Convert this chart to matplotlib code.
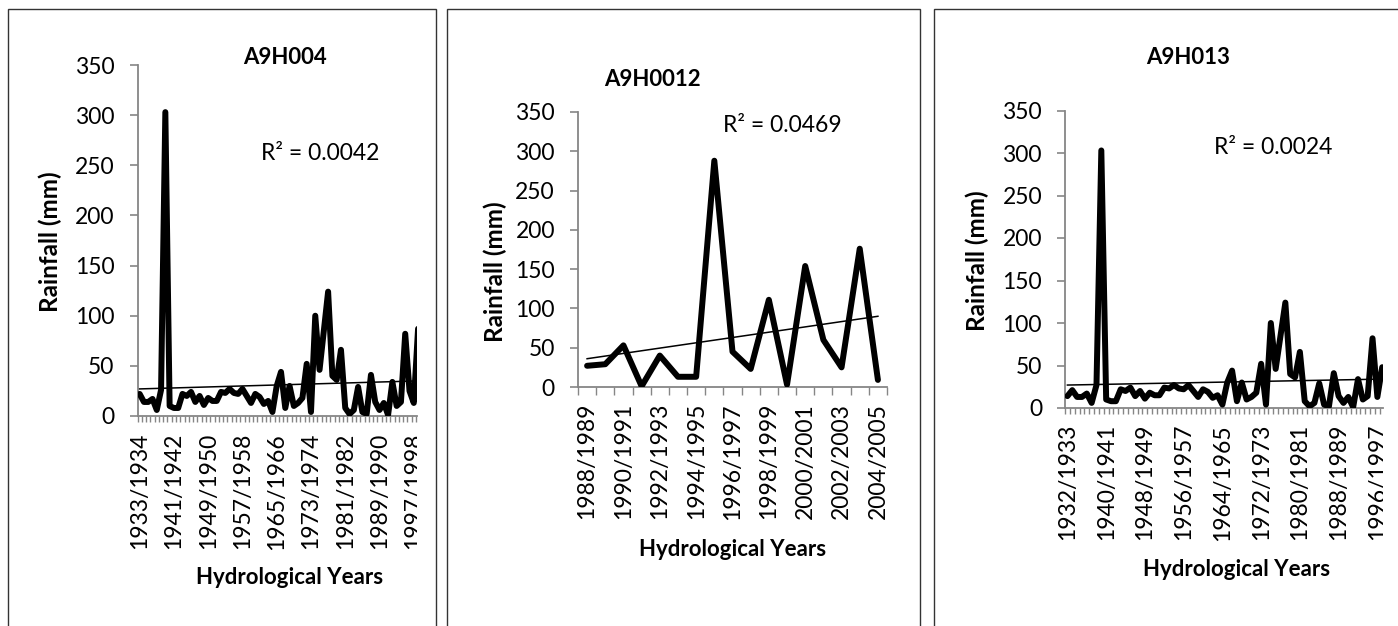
import numpy as np
import matplotlib
matplotlib.use("Agg")
import matplotlib.pyplot as plt
from matplotlib.patches import Rectangle
from matplotlib.ticker import FixedLocator
from matplotlib.transforms import Bbox, TransformedBbox

plt.rcParams['font.family'] = ['Lato', 'DejaVu Sans']

W, H, DPI = 1398, 626, 100

# Annual rainfall (mm) per hydrological year, one list per station
a9h004_start = 1933
a9h004_rain = [22, 14, 14, 17, 6, 26, 303, 10, 8, 8, 22, 20, 24, 14, 20, 11, 18, 15, 15, 24,
               23, 27, 23, 22, 27, 20, 13, 22, 19, 12, 15, 4, 30, 44, 8, 30, 10, 13, 18, 52,
               4, 100, 46, 85, 124, 40, 36, 66, 8, 2, 6, 29, 4, 2, 41, 14, 6, 13, 1, 34,
               10, 14, 82, 25, 13, 87]

a9h0012_start = 1988
a9h0012_rain = [27, 29, 53, 1, 40, 13, 13, 288, 45, 23, 111, 3, 154, 60, 25, 176, 9]

a9h013_start = 1932
a9h013_rain = [14, 21, 13, 13, 17, 6, 27, 303, 10, 8, 8, 22, 20, 24, 14, 20, 11, 18, 15, 15,
               24, 23, 27, 23, 22, 27, 20, 13, 22, 19, 12, 15, 4, 30, 44, 8, 30, 10, 13, 18,
               52, 4, 100, 46, 85, 124, 40, 36, 66, 8, 2, 6, 29, 4, 2, 41, 14, 6, 13, 1,
               34, 10, 14, 82, 13, 48]

# linear trend lines: value at the first and at the last year of each series
a9h004_trend = [27, 35]
a9h0012_trend = [36, 90]
a9h013_trend = [27, 34]

r2_labels = ["R\u00b2 = 0.0042", "R\u00b2 = 0.0469", "R\u00b2 = 0.0024"]
titles = ["A9H004", "A9H0012", "A9H013"]
y_ticks = list(range(0, 351, 50))

AXIS_GREY = "#868686"
FRAME = "#333333"
TICK_FS = 16.5
BOLD_FS = 16

fig = plt.figure(figsize=(W / DPI, H / DPI), dpi=DPI)
fig.patch.set_facecolor("white")


def px_pt(px):
    return px * 72.0 / DPI


def ftext(x, y, s, **kw):
    fig.text(x / W, 1 - y / H, s, **kw)


def frame(x0, x1):
    fig.add_artist(Rectangle((x0 / W, -0.2), (x1 - x0) / W, 1.2 - 9 / H,
                             transform=fig.transFigure, fill=False,
                             edgecolor=FRAME, linewidth=1.0))


def panel(values, trend, start_year, box, xmax, step, minor_len, xpad):
    left, right, top, bottom = box
    ax = fig.add_axes([left / W, 1 - bottom / H, (right - left) / W, (bottom - top) / H])
    x = np.arange(len(values))
    y = np.asarray(values, dtype=float)
    cats = [f"{start_year + i}/{start_year + i + 1}" for i in x]

    ax.plot(x, y, color="black", lw=4.3, solid_joinstyle="round",
            solid_capstyle="round", zorder=3)
    ax.plot([x[0], x[-1]], trend, color="black", lw=1.1, zorder=4)

    ax.set_xlim(-0.5, xmax)
    ax.set_ylim(0, 350)
    ax.set_yticks(y_ticks)
    ax.set_facecolor("none")

    for side in ("top", "right"):
        ax.spines[side].set_visible(False)
    for side in ("left", "bottom"):
        ax.spines[side].set_color(AXIS_GREY)
        ax.spines[side].set_linewidth(1.3)

    shown = [i for i in x if i % step == 0 and i <= xmax]
    ax.xaxis.set_major_locator(FixedLocator(shown))
    ax.set_xticklabels([cats[i] for i in shown])
    ax.xaxis.set_minor_locator(FixedLocator(np.arange(-0.5, len(values) + 0.5, 1.0)))

    ax.tick_params(axis="y", length=px_pt(8), width=1.2, color=AXIS_GREY,
                   pad=px_pt(15), labelsize=TICK_FS)
    ax.tick_params(axis="x", which="major", length=0, pad=px_pt(xpad),
                   labelrotation=90, labelsize=TICK_FS)
    ax.tick_params(axis="x", which="minor", length=px_pt(minor_len), width=1.0,
                   color=AXIS_GREY)

    # the category axis runs past the panel edge: cut labels at the plot's right side
    clip = TransformedBbox(Bbox([[0, 0], [right / W, 1]]), fig.transFigure)
    for t in ax.xaxis.get_major_ticks():
        t.label1.set_clip_box(clip)
        t.label1.set_clip_on(True)
    return ax


# panel outlines
frame(8, 436)
frame(447, 920)
frame(934, 1420)

# A9H004
panel(a9h004_rain, a9h004_trend, a9h004_start, (137.5, 417, 65, 416), 64.75, 8, 6, 17)
ftext(285, 58, titles[0], fontsize=BOLD_FS, fontweight="bold", ha="center", va="center")
ftext(320, 154, r2_labels[0], fontsize=TICK_FS, ha="center", va="center")
ftext(50, 242, "Rainfall (mm)", fontsize=17.5, fontweight="bold", rotation=90,
      ha="center", va="center")
ftext(290, 578, "Hydrological Years", fontsize=BOLD_FS, fontweight="bold",
      ha="center", va="center")

# A9H0012
panel(a9h0012_rain, a9h0012_trend, a9h0012_start, (578, 887, 112, 387), 16.5, 2, 8, 16)
ftext(652, 80, titles[1], fontsize=BOLD_FS, fontweight="bold", ha="center", va="center")
ftext(782, 125, r2_labels[1], fontsize=TICK_FS, ha="center", va="center")
ftext(495, 272, "Rainfall (mm)", fontsize=17.5, fontweight="bold", rotation=90,
      ha="center", va="center")
ftext(733, 550, "Hydrological Years", fontsize=BOLD_FS, fontweight="bold",
      ha="center", va="center")

# A9H013
panel(a9h013_rain, a9h013_trend, a9h013_start, (1065, 1382.5, 110.5, 408), 65.06, 8, 6, 16)
ftext(1188, 58, titles[2], fontsize=BOLD_FS, fontweight="bold", ha="center", va="center")
ftext(1273, 148, r2_labels[2], fontsize=TICK_FS, ha="center", va="center")
ftext(977, 261, "Rainfall (mm)", fontsize=17.5, fontweight="bold", rotation=90,
      ha="center", va="center")
ftext(1237, 570, "Hydrological Years", fontsize=BOLD_FS, fontweight="bold",
      ha="center", va="center")

fig.savefig("out.png", dpi=DPI, facecolor="white")
